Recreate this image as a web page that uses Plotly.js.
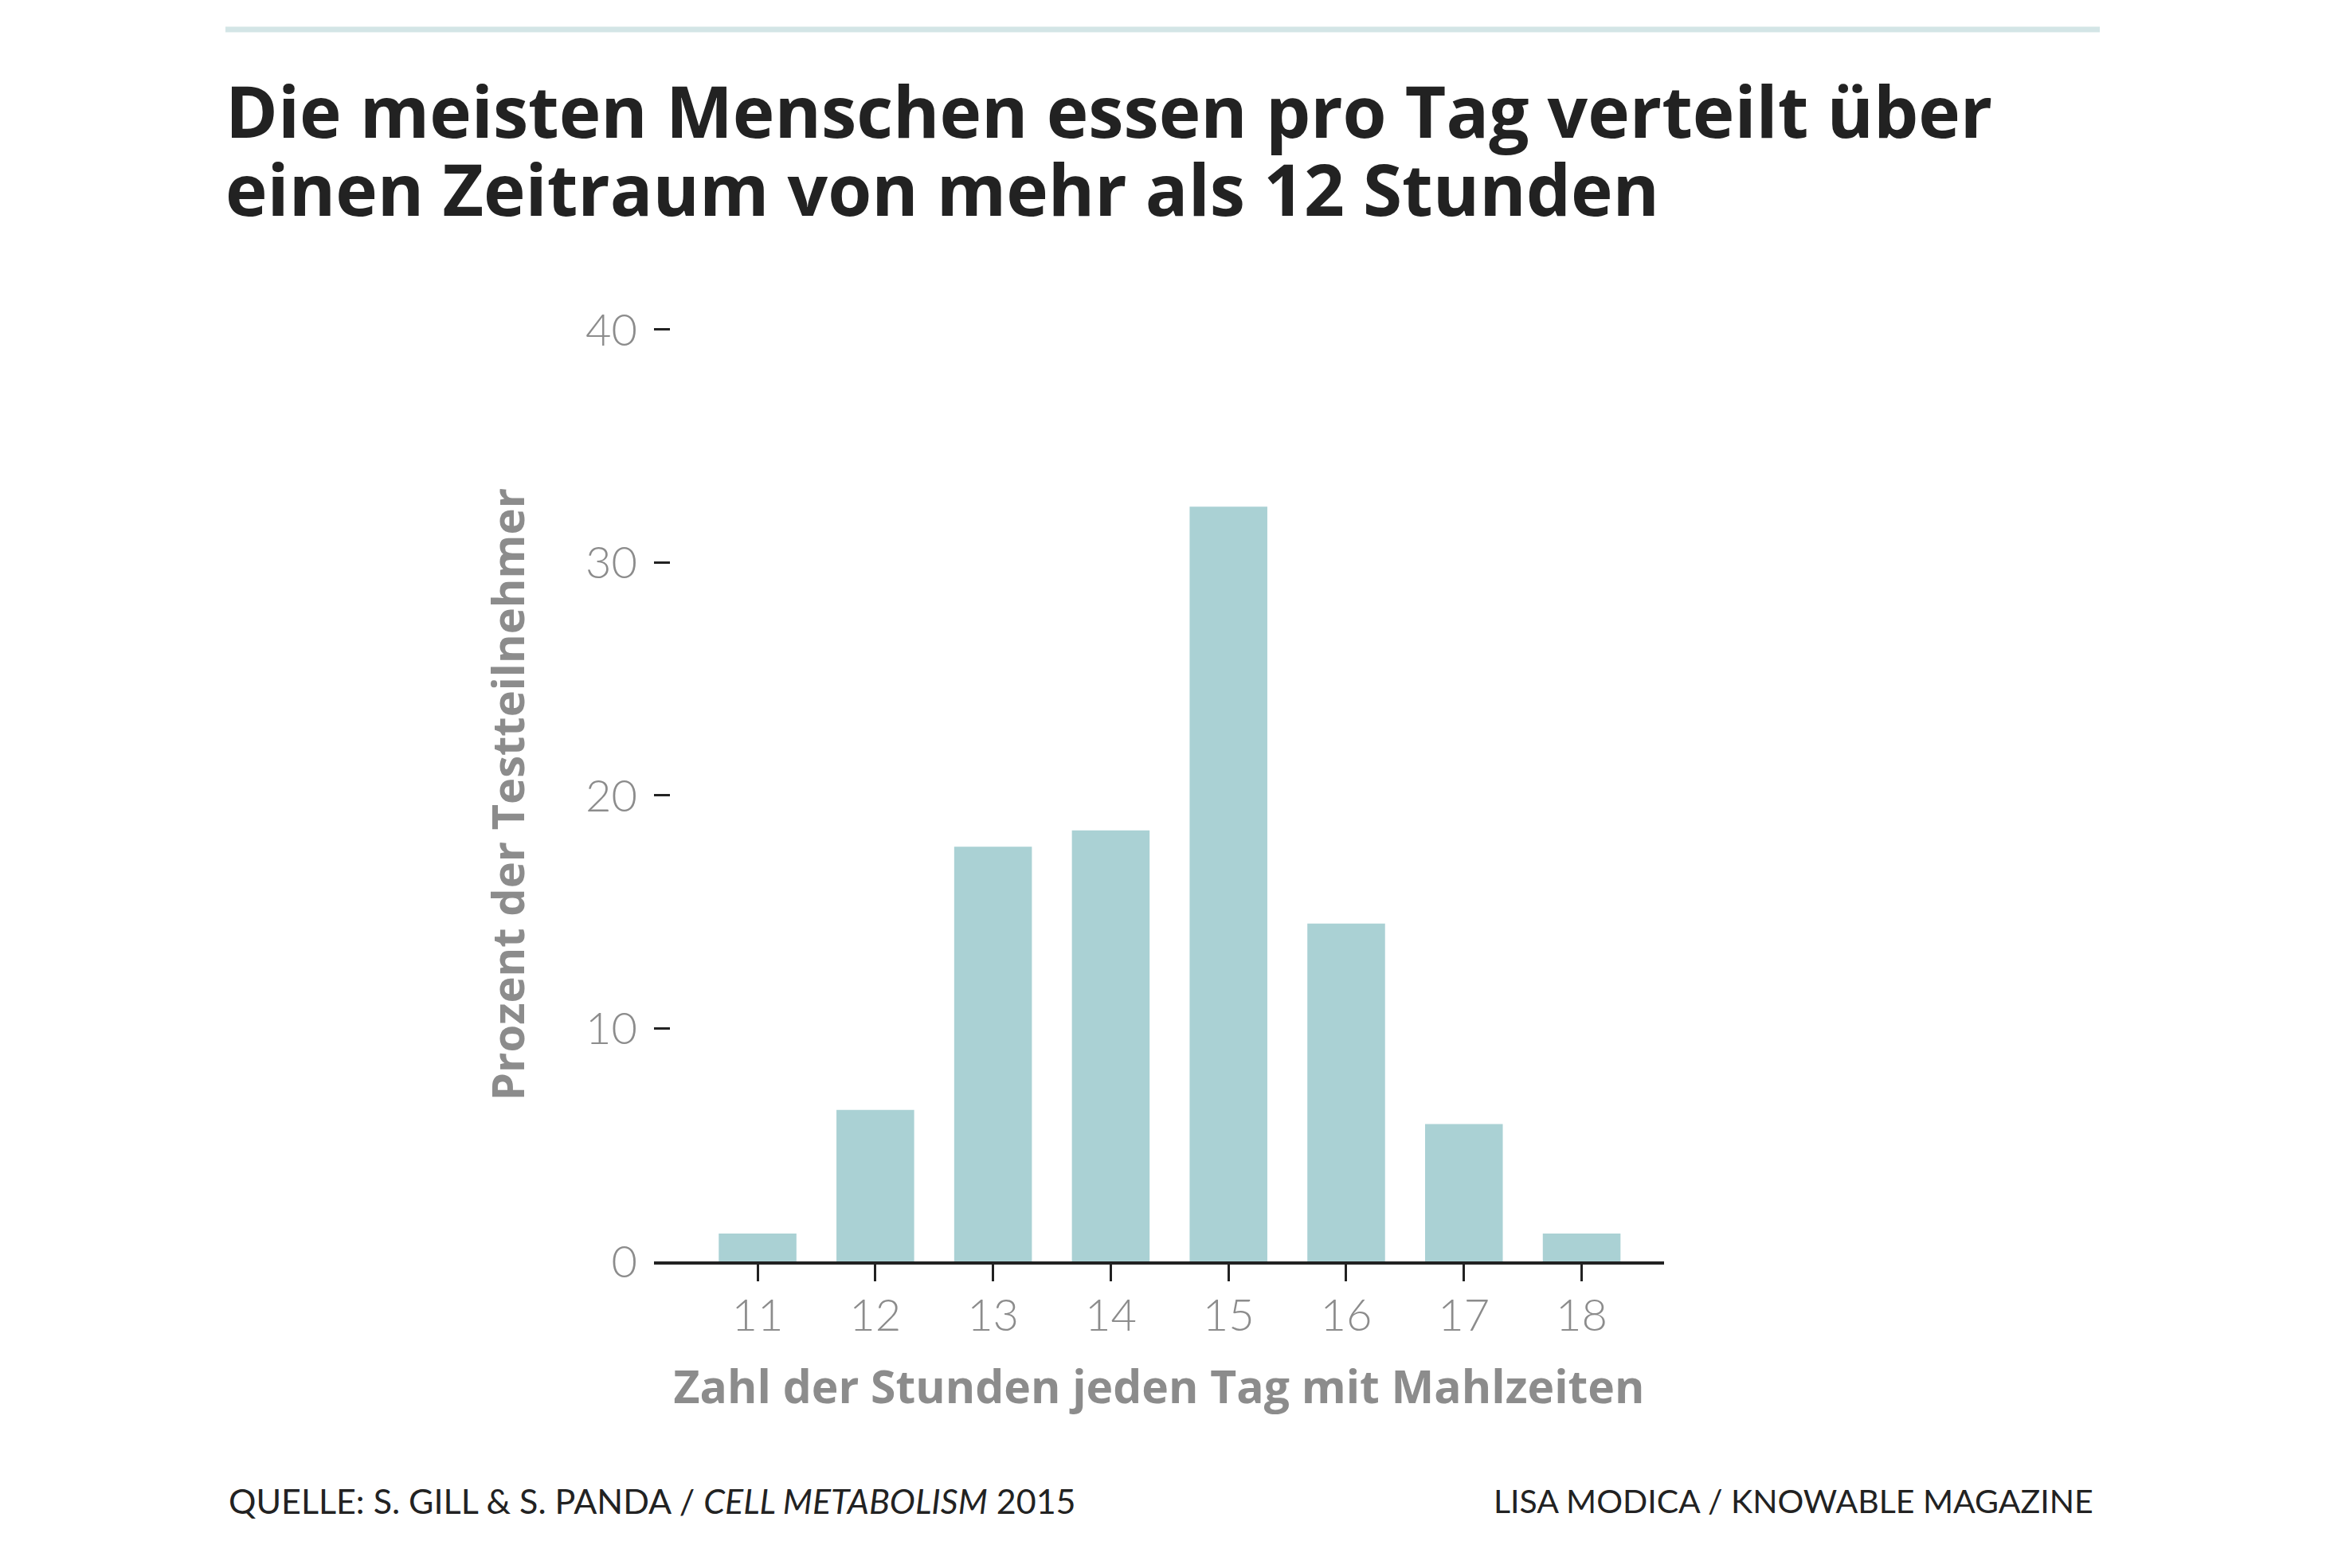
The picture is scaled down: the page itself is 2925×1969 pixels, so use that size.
<!DOCTYPE html>
<html>
<head>
<meta charset="utf-8">
<script src="https://cdn.plot.ly/plotly-3.0.1.min.js"></script>
<style>html,body{margin:0;padding:0;background:#fff;}#chart{width:2925px;height:1969px;}</style>
</head>
<body>
<div id="chart"></div>
<script>
const hours = [11, 12, 13, 14, 15, 16, 17, 18];
const percent = [1.2, 6.5, 17.8, 18.5, 32.4, 14.5, 5.9, 1.2];
const yTicks = [0, 10, 20, 30, 40];
const titleLines = ["Die meisten Menschen essen pro Tag verteilt über", "einen Zeitraum von mehr als 12 Stunden"];
const xTitle = "Zahl der Stunden jeden Tag mit Mahlzeiten";
const yTitle = "Prozent der Testteilnehmer";
const sourceText = "QUELLE: S. GILL &amp; S. PANDA / <i>CELL METABOLISM</i> 2015";
const creditText = "LISA MODICA / KNOWABLE MAGAZINE";

const W = 2925, H = 1969;
const L = 821, R = 2089, T = 411, B = 1584;
const px = x => (x - L) / (R - L);
const py = y => (B - y) / (B - T);

const trace = {
  type: 'bar', x: hours, y: percent, width: 0.66,
  marker: {color: '#aad1d4'}, hoverinfo: 'skip'
};

const gray = '#8c8c8c';
const boldFont = '"Open Sans", Lato, sans-serif';
const layout = {
  width: W, height: H,
  margin: {l: L, r: W - R, t: T, b: H - B, pad: 0},
  paper_bgcolor: '#fff', plot_bgcolor: '#fff',
  showlegend: false,
  font: {family: 'Lato, "Open Sans", sans-serif', color: gray},
  xaxis: {
    range: [10.12, 18.70], tickmode: 'array', tickvals: hours, ticktext: hours.map(String),
    showline: true, linecolor: '#222', linewidth: 4, zeroline: false, showgrid: false,
    ticks: 'outside', ticklen: 21, tickwidth: 3, tickcolor: '#222',
    tickfont: {size: 56, color: gray, family: 'Lato, sans-serif', weight: 300},
    ticklabelstandoff: -5,
    title: {text: xTitle, font: {size: 57, color: gray, family: boldFont, weight: 700}, standoff: 41},
    automargin: false, fixedrange: true
  },
  yaxis: {
    range: [0, 40.1], tickmode: 'array', tickvals: yTicks, ticktext: yTicks.map(String),
    showline: false, zeroline: false, showgrid: false,
    ticks: 'inside', ticklen: 20, tickwidth: 3, tickcolor: '#222',
    tickfont: {size: 56, color: gray, family: 'Lato, sans-serif', weight: 300},
    ticklabelstandoff: 20,
    title: {text: yTitle, font: {size: 56, color: gray, family: boldFont, weight: 700}, standoff: 58},
    automargin: false, fixedrange: true
  },
  shapes: [{
    type: 'line', xref: 'paper', yref: 'paper',
    x0: px(283), x1: px(2636), y0: py(37), y1: py(37),
    line: {color: '#d3e5e6', width: 7}
  }],
  annotations: [
    {text: titleLines[0], xref: 'paper', yref: 'paper', x: px(281), y: py(138), xanchor: 'left', yanchor: 'middle', showarrow: false,
     font: {size: 89, color: '#222', family: boldFont, weight: 700}},
    {text: titleLines[1], xref: 'paper', yref: 'paper', x: px(281), y: py(237), xanchor: 'left', yanchor: 'middle', showarrow: false,
     font: {size: 89, color: '#222', family: boldFont, weight: 700}},
    {text: sourceText, xref: 'paper', yref: 'paper', x: px(285), y: py(1884), xanchor: 'left', yanchor: 'middle', showarrow: false,
     font: {size: 43, color: '#222', family: 'Lato, sans-serif'}},
    {text: creditText, xref: 'paper', yref: 'paper', x: px(2630), y: py(1884), xanchor: 'right', yanchor: 'middle', showarrow: false,
     font: {size: 41, color: '#222', family: 'Lato, sans-serif'}}
  ]
};

Plotly.newPlot('chart', [trace], layout, {staticPlot: true, displayModeBar: false});
</script>
</body>
</html>
